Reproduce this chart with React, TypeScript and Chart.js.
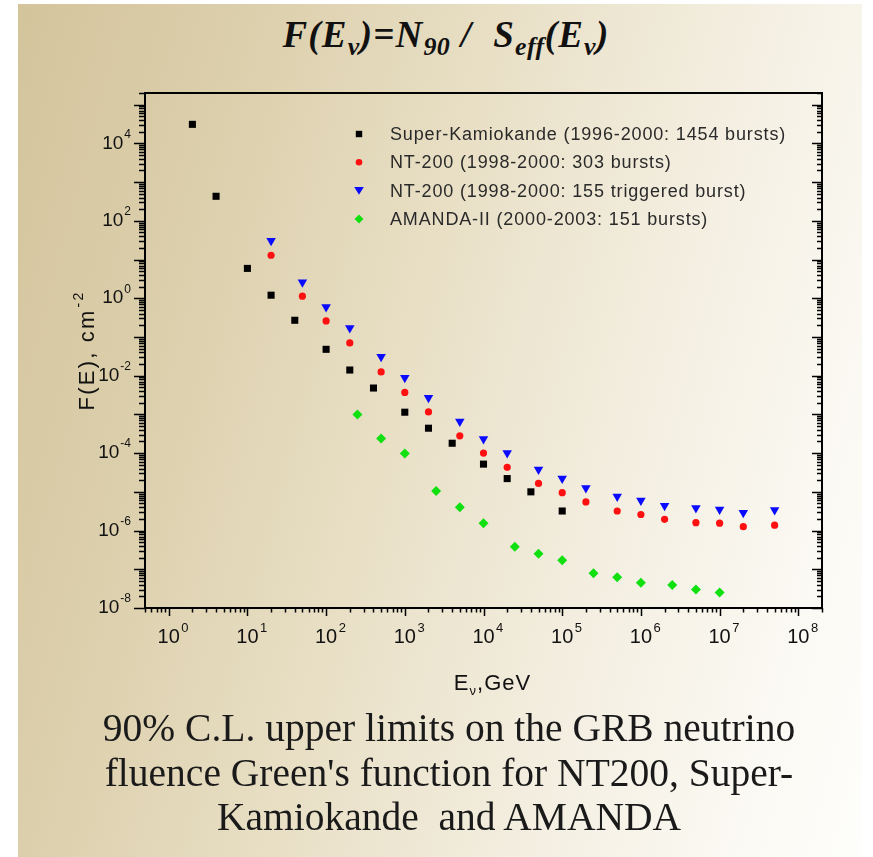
import React, { useEffect, useRef } from "react";
import { Chart, registerables } from "chart.js";

Chart.register(...registerables);

// ---------- data ----------
const superKEnergy = [2, 4, 10, 20, 40, 100, 200, 400, 1e3, 2e3, 4e3, 1e4, 2e4, 4e4, 1e5];
const superKFluence = [3.1e4, 430, 5.9, 1.2, 0.27, 0.048, 0.014, 0.0048, 0.00114, 4.4e-4, 1.8e-4, 5.2e-5, 2.2e-5, 1.0e-5, 3.2e-6];

const nt200Energy = [20, 50, 100, 200, 500, 1e3, 2e3, 5e3, 1e4, 2e4, 5e4, 1e5, 2e5, 5e5, 1e6, 2e6, 5e6, 1e7, 2e7, 5e7];
const nt200Fluence = [12.9, 1.13, 0.26, 0.07, 0.0125, 0.0037, 0.00116, 2.8e-4, 1.0e-4, 4.3e-5, 1.65e-5, 9.5e-6, 5.5e-6, 3.2e-6, 2.6e-6, 1.95e-6, 1.6e-6, 1.55e-6, 1.26e-6, 1.38e-6];

const nt200TrigEnergy = [20, 50, 100, 200, 500, 1e3, 2e3, 5e3, 1e4, 2e4, 5e4, 1e5, 2e5, 5e5, 1e6, 2e6, 5e6, 1e7, 2e7, 5e7];
const nt200TrigFluence = [30.5, 2.6, 0.59, 0.17, 0.031, 0.0088, 0.0027, 6.6e-4, 2.3e-4, 1.0e-4, 3.8e-5, 2.2e-5, 1.25e-5, 7.6e-6, 6.0e-6, 4.4e-6, 3.8e-6, 3.5e-6, 2.9e-6, 3.4e-6];

const amandaEnergy = [250, 500, 1e3, 2.5e3, 5e3, 1e4, 2.5e4, 5e4, 1e5, 2.5e5, 5e5, 1e6, 2.5e6, 5e6, 1e7];
const amandaFluence = [1.0e-3, 2.4e-4, 9.8e-5, 1.05e-5, 4.0e-6, 1.55e-6, 3.8e-7, 2.5e-7, 1.7e-7, 7.9e-8, 6.2e-8, 4.5e-8, 3.9e-8, 3.0e-8, 2.5e-8];

const seriesLabels = [
  "Super-Kamiokande (1996-2000: 1454 bursts)",
  "NT-200 (1998-2000: 303 bursts)",
  "NT-200 (1998-2000: 155 triggered burst)",
  "AMANDA-II (2000-2003: 151 bursts)",
];

const xTickExponents = [0, 1, 2, 3, 4, 5, 6, 7, 8];
const yTickExponents = [-8, -6, -4, -2, 0, 2, 4];
const xRange = [0.5, 2e8];
const yRange = [1e-8, 2e5];

const xTitle = ["E", "\u03bd", ",GeV"];
const yTitle = ["F(E), cm", "-2"];

const SANS = "'Liberation Sans', Arial, sans-serif";

function decadeTicks(min: number, max: number) {
  const out: { value: number; major: boolean }[] = [];
  const e0 = Math.floor(Math.log10(min));
  const e1 = Math.ceil(Math.log10(max));
  for (let e = e0; e <= e1; e++) {
    for (let m = 1; m < 10; m++) {
      const v = m * Math.pow(10, e);
      if (v >= min * 0.9999 && v <= max * 1.0001) out.push({ value: v, major: m === 1 });
    }
  }
  return out;
}

function drawMarker(ctx: CanvasRenderingContext2D, kind: string, x: number, y: number, color: string) {
  ctx.save();
  ctx.fillStyle = color;
  ctx.beginPath();
  if (kind === "rect") {
    ctx.rect(x - 3.2, y - 3.2, 6.4, 6.4);
  } else if (kind === "circle") {
    ctx.arc(x, y, 3.3, 0, Math.PI * 2);
  } else if (kind === "triangle") {
    ctx.moveTo(x - 4.8, y - 3.6);
    ctx.lineTo(x + 4.8, y - 3.6);
    ctx.lineTo(x, y + 4.2);
    ctx.closePath();
  } else {
    ctx.moveTo(x, y - 4.5);
    ctx.lineTo(x + 4.5, y);
    ctx.lineTo(x, y + 4.5);
    ctx.lineTo(x - 4.5, y);
    ctx.closePath();
  }
  ctx.fill();
  ctx.restore();
}

const decorPlugin = {
  id: "decor",
  afterDraw(chart: any) {
    const ctx: CanvasRenderingContext2D = chart.ctx;
    const { left, right, top, bottom } = chart.chartArea;
    const xs = chart.scales.x;
    const ys = chart.scales.y;
    ctx.save();

    // frame
    ctx.strokeStyle = "#000";
    ctx.lineWidth = 2;
    ctx.strokeRect(left, top, right - left, bottom - top);

    // tick marks
    ctx.lineWidth = 1.5;
    ctx.beginPath();
    for (const t of xs.ticks) {
      const px = Math.round(xs.getPixelForValue(t.value)) + 0.5;
      const len = t.major ? 8 : 4.5;
      ctx.moveTo(px, bottom);
      ctx.lineTo(px, bottom + len);
    }
    for (const t of ys.ticks) {
      const py = Math.round(ys.getPixelForValue(t.value)) + 0.5;
      const lenL = t.major ? 11 : 6;
      const lenR = t.major ? 10 : 5;
      ctx.moveTo(left, py);
      ctx.lineTo(left - lenL, py);
      ctx.moveTo(right, py);
      ctx.lineTo(right - lenR, py);
    }
    ctx.stroke();

    // tick labels
    ctx.fillStyle = "#111";
    ctx.textBaseline = "middle";
    ctx.textAlign = "left";
    const bigFont = `20px ${SANS}`;
    const supFont = `13px ${SANS}`;
    for (const e of xTickExponents) {
      const px = xs.getPixelForValue(Math.pow(10, e));
      ctx.font = bigFont;
      const w10 = ctx.measureText("10").width;
      const x0 = px - w10 / 2;
      const y0 = bottom + 29;
      ctx.fillText("10", x0, y0);
      ctx.font = supFont;
      ctx.fillText(String(e), x0 + w10 + 1.5, y0 - 9);
    }
    const yBig = `19px ${SANS}`;
    const ySup = `12px ${SANS}`;
    for (const e of yTickExponents) {
      const py = ys.getPixelForValue(Math.pow(10, e));
      ctx.font = yBig;
      const w10 = ctx.measureText("10").width;
      ctx.font = ySup;
      const sup = e < 0 ? "-" + Math.abs(e) : String(e);
      const ws = ctx.measureText(sup).width;
      const x0 = left - 14 - ws - 1 - w10;
      ctx.font = yBig;
      ctx.fillText("10", x0, py);
      ctx.font = ySup;
      ctx.fillText(sup, x0 + w10 + 1, py - 9);
    }

    // x title
    {
      (ctx as any).letterSpacing = "1px";
      ctx.font = `22px ${SANS}`;
      const wA = ctx.measureText(xTitle[0]).width;
      const wC = ctx.measureText(xTitle[2]).width;
      ctx.font = `13px ${SANS}`;
      const wB = ctx.measureText(xTitle[1]).width;
      const total = wA + wB + wC;
      const cx = (left + right) / 2 + 9;
      const cy = bottom + 76;
      let x = cx - total / 2;
      ctx.font = `22px ${SANS}`;
      ctx.fillText(xTitle[0], x, cy);
      x += wA;
      ctx.font = `13px ${SANS}`;
      ctx.fillText(xTitle[1], x, cy + 7);
      x += wB;
      ctx.font = `22px ${SANS}`;
      ctx.fillText(xTitle[2], x, cy);
      (ctx as any).letterSpacing = "0px";
    }

    // y title
    {
      ctx.save();
      ctx.translate(left - 57, (top + bottom) / 2);
      ctx.rotate(-Math.PI / 2);
      (ctx as any).letterSpacing = "2.2px";
      ctx.font = `22px ${SANS}`;
      const wA = ctx.measureText(yTitle[0]).width;
      ctx.font = `14px ${SANS}`;
      const wB = ctx.measureText(yTitle[1]).width;
      let x = -(wA + wB + 1) / 2;
      ctx.font = `22px ${SANS}`;
      ctx.fillText(yTitle[0], x, 0);
      ctx.font = `14px ${SANS}`;
      ctx.fillText(yTitle[1], x + wA + 1, -9);
      (ctx as any).letterSpacing = "0px";
      ctx.restore();
    }

    // legend
    {
      const kinds = ["rect", "circle", "triangle", "rectRot"];
      ctx.font = `18px ${SANS}`;
      (ctx as any).letterSpacing = "0.85px";
      chart.data.datasets.forEach((ds: any, i: number) => {
        const y = top + 41 + i * 28.3;
        drawMarker(ctx, kinds[i], left + 214, y, ds.backgroundColor);
        ctx.fillStyle = "#2a2a2a";
        ctx.fillText(seriesLabels[i], left + 245, y + 1);
      });
      (ctx as any).letterSpacing = "0px";
    }

    ctx.restore();
  },
};

function toPoints(xs: number[], ys: number[]) {
  return xs.map((x, i) => ({ x, y: ys[i] }));
}

function ChartView() {
  const ref = useRef<HTMLCanvasElement | null>(null);
  useEffect(() => {
    if (!ref.current) return;
    const chart = new Chart(ref.current, {
      type: "scatter",
      data: {
        datasets: [
          {
            label: seriesLabels[0],
            data: toPoints(superKEnergy, superKFluence),
            pointStyle: "rect",
            pointRadius: 5,
            backgroundColor: "#000000",
            borderWidth: 0,
          },
          {
            label: seriesLabels[1],
            data: toPoints(nt200Energy, nt200Fluence),
            pointStyle: "circle",
            pointRadius: 3.6,
            backgroundColor: "#ff1010",
            borderWidth: 0,
          },
          {
            label: seriesLabels[2],
            data: toPoints(nt200TrigEnergy, nt200TrigFluence),
            pointStyle: "triangle",
            pointRotation: 180,
            pointRadius: 5.5,
            backgroundColor: "#0a0aff",
            borderWidth: 0,
          },
          {
            label: seriesLabels[3],
            data: toPoints(amandaEnergy, amandaFluence),
            pointStyle: "rectRot",
            pointRadius: 5,
            backgroundColor: "#10e010",
            borderWidth: 0,
          },
        ],
      } as any,
      options: {
        responsive: false,
        animation: false,
        devicePixelRatio: 1,
        layout: { padding: { left: 145, top: 93, right: 51, bottom: 249 } },
        plugins: {
          legend: { display: false },
          title: { display: false },
          tooltip: { enabled: false },
        },
        scales: {
          x: {
            type: "logarithmic",
            min: xRange[0],
            max: xRange[1],
            ticks: { display: false },
            grid: { display: false, drawTicks: false, tickLength: 0 },
            border: { display: false },
            afterBuildTicks: (scale: any) => {
              scale.ticks = decadeTicks(xRange[0], xRange[1]);
            },
          },
          y: {
            type: "logarithmic",
            min: yRange[0],
            max: yRange[1],
            ticks: { display: false },
            grid: { display: false, drawTicks: false, tickLength: 0 },
            border: { display: false },
            afterBuildTicks: (scale: any) => {
              scale.ticks = decadeTicks(yRange[0], yRange[1]);
            },
          },
        },
      } as any,
      plugins: [decorPlugin],
    });
    return () => chart.destroy();
  }, []);
  return (
    <canvas
      ref={ref}
      width={873}
      height={857}
      style={{ position: "absolute", left: 0, top: 0, width: 873, height: 857 }}
    />
  );
}

const subStyle: React.CSSProperties = { fontSize: "0.7em", verticalAlign: "-0.32em", lineHeight: 0, letterSpacing: "0.5px" };

export default function App() {
  return (
    <div
      style={{
        position: "absolute",
        left: 0,
        top: 0,
        width: 873,
        height: 857,
        overflow: "hidden",
        background: "#ffffff",
      }}
    >
      <div
        style={{
          position: "absolute",
          left: 18,
          top: 4,
          width: 844,
          height: 853,
          background:
            "linear-gradient(105deg, #d3c49c 0%, #dccfac 22%, #e8dfc5 45%, #f3eee0 68%, #fbf9f3 88%, #fefefc 100%)",
        }}
      />
      <div
        style={{
          position: "absolute",
          left: 0,
          width: 892,
          top: 14,
          textAlign: "center",
          fontFamily: "'Liberation Serif', 'Times New Roman', serif",
          fontWeight: "bold",
          fontStyle: "italic",
          fontSize: 37,
          letterSpacing: "1.2px",
          lineHeight: "42px",
          color: "#111",
          whiteSpace: "pre",
        }}
      >
        F(E<span style={subStyle}>ν</span>)=N<span style={subStyle}>90</span>{" /  "}S
        <span style={subStyle}>eff</span>(E<span style={subStyle}>ν</span>)
      </div>
      <ChartView />
      <div
        style={{
          position: "absolute",
          left: 0,
          width: 898,
          top: 706,
          textAlign: "center",
          fontFamily: "'Liberation Serif', 'Times New Roman', serif",
          fontSize: 39.5,
          lineHeight: "44.5px",
          color: "#1a1a1a",
          whiteSpace: "pre",
        }}
      >
        {"90% C.L. upper limits on the GRB neutrino\nfluence Green's function for NT200, Super-\nKamiokande  and AMANDA"}
      </div>
    </div>
  );
}
